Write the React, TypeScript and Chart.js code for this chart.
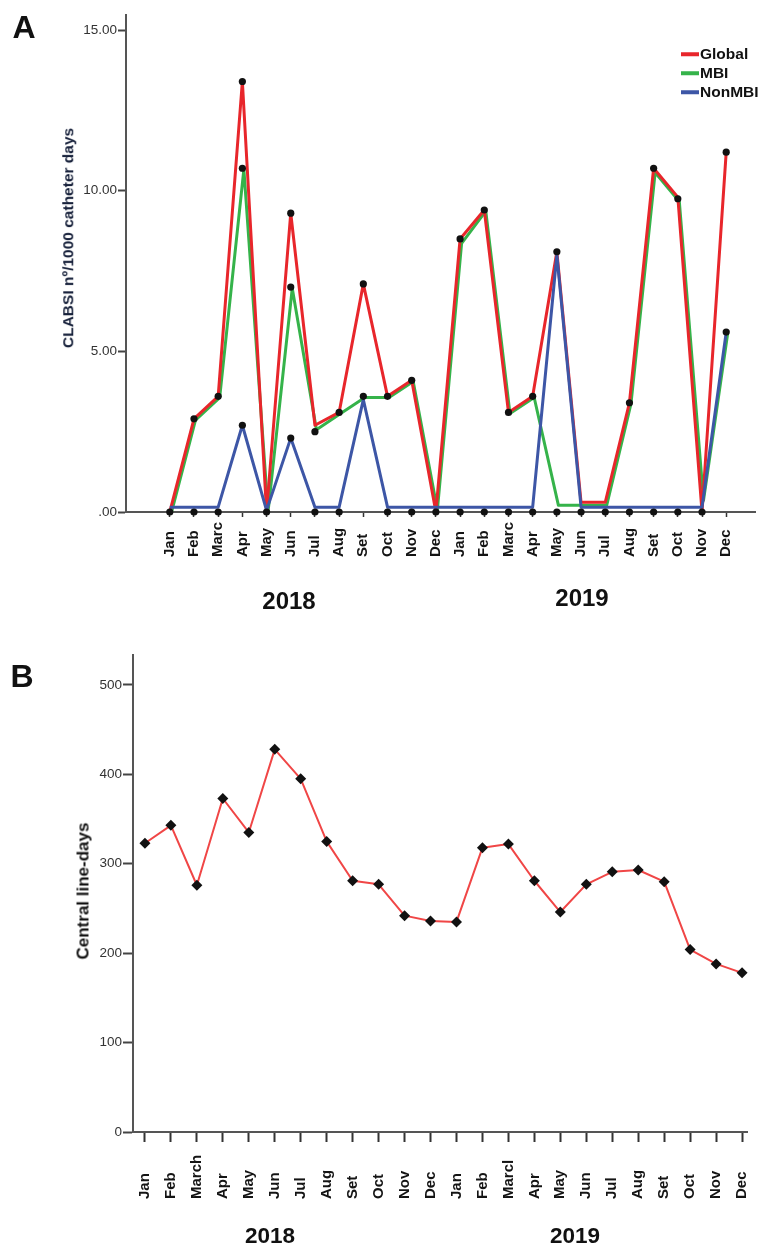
import React, { useEffect, useRef } from 'react';
import { Chart, registerables } from 'chart.js';

Chart.register(...registerables);

// ---------- Panel A data ----------
const monthsA = ['Jan', 'Feb', 'Marc', 'Apr', 'May', 'Jun', 'Jul', 'Aug', 'Set', 'Oct', 'Nov', 'Dec',
  'Jan', 'Feb', 'Marc', 'Apr', 'May', 'Jun', 'Jul', 'Aug', 'Set', 'Oct', 'Nov', 'Dec'];
const globalRate = [0, 2.9, 3.6, 13.4, 0, 9.3, 2.7, 3.1, 7.1, 3.6, 4.1, 0,
  8.5, 9.4, 3.1, 3.6, 8.1, 0.3, 0.3, 3.4, 10.7, 9.8, 0, 11.2];
const mbiRate = [0, 2.9, 3.6, 10.7, 0.05, 7.0, 2.6, 3.1, 3.6, 3.6, 4.1, 0.1,
  8.4, 9.4, 3.1, 3.6, 0.25, 0.25, 0.25, 3.4, 10.6, 9.7, 0.4, 5.6];
const nonMbiRate = [0.15, 0.15, 0.15, 2.7, 0.05, 2.3, 0.15, 0.15, 3.5, 0.15, 0.15, 0.15,
  0.15, 0.15, 0.15, 0.15, 8.0, 0.15, 0.15, 0.15, 0.15, 0.15, 0.15, 5.6];
// observed markers (black dots)
const globalDots = [null, 2.9, 3.6, 13.4, null, 9.3, 2.5, 3.1, 7.1, 3.6, 4.1, null,
  8.5, 9.4, 3.1, 3.6, 8.1, null, null, 3.4, 10.7, 9.75, null, 11.2];
const mbiDots = [null, null, null, 10.7, null, 7.0, null, null, 3.6, null, null, null,
  null, null, null, null, null, null, null, null, null, null, null, 5.6];
const nonMbiDots = [0, 0, 0, 2.7, 0, 2.3, 0, 0, null, 0, 0, 0,
  0, 0, 0, 0, 0, 0, 0, 0, 0, 0, 0, null];
const yTicksA = [0, 5, 10, 15];

// ---------- Panel B data ----------
const monthsB = ['Jan', 'Feb', 'March', 'Apr', 'May', 'Jun', 'Jul', 'Aug', 'Set', 'Oct', 'Nov', 'Dec',
  'Jan', 'Feb', 'Marcl', 'Apr', 'May', 'Jun', 'Jul', 'Aug', 'Set', 'Oct', 'Nov', 'Dec'];
const lineDays = [323, 343, 276, 373, 335, 428, 395, 325, 281, 277, 242, 236,
  235, 318, 322, 281, 246, 277, 291, 293, 280, 204, 188, 178];
const yTicksB = [0, 100, 200, 300, 400, 500];

const FONT = '"Liberation Sans", Arial, Helvetica, sans-serif';
const RED = '#e8262b';
const GREEN = '#35b34a';
const BLUE = '#3d56a6';

const toXY = (arr: (number | null)[]) =>
  arr.map((v, i) => (v === null ? null : { x: i, y: v })).filter(Boolean) as { x: number; y: number }[];

const verticalLabels = {
  id: 'verticalLabels',
  afterDraw(chart: any, _args: any, opts: any) {
    const xs = chart.scales.x;
    const ctx = chart.ctx;
    ctx.save();
    ctx.font = `bold ${opts.size}px ${FONT}`;
    ctx.fillStyle = '#141414';
    ctx.textAlign = 'left';
    ctx.textBaseline = 'middle';
    const y0 = chart.chartArea.bottom + opts.offset;
    (opts.labels as string[]).forEach((t, i) => {
      const px = xs.getPixelForValue(i);
      ctx.save();
      ctx.translate(px, y0);
      ctx.rotate(-Math.PI / 2);
      ctx.fillText(t, 0, 0);
      ctx.restore();
    });
    ctx.restore();
  },
};

const shiftDataset = {
  id: 'shiftDataset',
  beforeDatasetDraw(chart: any, args: any) {
    const ds = chart.data.datasets[args.index];
    if (ds.shift) {
      chart.ctx.save();
      chart.ctx.translate(ds.shift[0], ds.shift[1]);
    }
  },
  afterDatasetDraw(chart: any, args: any) {
    const ds = chart.data.datasets[args.index];
    if (ds.shift) chart.ctx.restore();
  },
};

function axisCommon() {
  return {
    border: { display: true, color: '#555', width: 2 },
  };
}

function ChartA() {
  const ref = useRef<HTMLCanvasElement>(null);
  useEffect(() => {
    const lineDs = (label: string, data: number[], color: string, order: number, shift?: number[]) => ({
      label,
      data: toXY(data),
      borderColor: color,
      backgroundColor: color,
      borderWidth: 3,
      borderJoinStyle: 'round',
      pointRadius: 0,
      tension: 0,
      order,
      shift,
      clip: false,
    });
    const dotDs = (data: (number | null)[]) => ({
      label: 'dots',
      data: toXY(data),
      showLine: false,
      pointRadius: 3.6,
      pointBackgroundColor: '#111',
      pointBorderColor: '#111',
      pointBorderWidth: 0,
      order: -1,
      clip: false,
    });
    const chart = new Chart(ref.current!, {
      type: 'line',
      data: {
        datasets: [
          lineDs('Global', globalRate, RED, 1),
          lineDs('MBI', mbiRate, GREEN, 2, [1.5, 1.2]),
          lineDs('NonMBI', nonMbiRate, BLUE, 0),
          dotDs(globalDots),
          dotDs(mbiDots),
          dotDs(nonMbiDots),
        ] as any,
      },
      options: {
        responsive: false,
        animation: false,
        layout: { padding: { top: 15, right: 1, left: 0, bottom: 0 } },
        plugins: {
          legend: { display: false },
          tooltip: { enabled: false },
          verticalLabels: { labels: monthsA, size: 15, offset: 45 },
        } as any,
        scales: {
          x: {
            type: 'linear',
            min: -1.81,
            max: 24.19,
            ...axisCommon(),
            grid: { drawOnChartArea: false, drawTicks: true, tickLength: 5, tickColor: '#333', tickWidth: 1.5 },
            ticks: { display: false },
            afterBuildTicks: (s: any) => { s.ticks = monthsA.map((_, i) => ({ value: i })); },
            afterFit: (s: any) => { s.height = 113; },
          },
          y: {
            type: 'linear',
            min: 0,
            max: 15.47,
            ...axisCommon(),
            grid: { drawOnChartArea: false, drawTicks: true, tickLength: 8, tickColor: '#444', tickWidth: 2 },
            ticks: {
              padding: 1,
              color: '#333',
              font: { family: FONT, size: 13.5 },
              callback: (v: any) => (v === 0 ? '.00' : Number(v).toFixed(2)),
            },
            afterBuildTicks: (s: any) => { s.ticks = yTicksA.map((v) => ({ value: v })); },
            afterFit: (s: any) => { s.width = 126; },
          },
        } as any,
      },
      plugins: [verticalLabels, shiftDataset],
    });
    return () => chart.destroy();
  }, []);
  return <canvas ref={ref} width={759} height={625} style={{ position: 'absolute', left: 0, top: 0, width: 759, height: 625 }} />;
}

function ChartB() {
  const ref = useRef<HTMLCanvasElement>(null);
  useEffect(() => {
    const chart = new Chart(ref.current!, {
      type: 'line',
      data: {
        datasets: [
          {
            label: 'Central line-days',
            data: toXY(lineDays),
            borderColor: '#f04646',
            borderWidth: 2,
            borderJoinStyle: 'round',
            tension: 0,
            pointStyle: 'rectRot',
            pointRadius: 5.5,
            pointBackgroundColor: '#111',
            pointBorderColor: '#111',
            pointBorderWidth: 0,
            clip: false,
          },
        ] as any,
      },
      options: {
        responsive: false,
        animation: false,
        layout: { padding: { top: 30, right: 12, left: 0, bottom: 0 } },
        plugins: {
          legend: { display: false },
          tooltip: { enabled: false },
          verticalLabels: { labels: monthsB, size: 15, offset: 67 },
        } as any,
        scales: {
          x: {
            type: 'linear',
            min: -0.46,
            max: 23.19,
            ...axisCommon(),
            grid: { drawOnChartArea: false, drawTicks: true, tickLength: 10, tickColor: '#333', tickWidth: 2 },
            ticks: { display: false },
            afterBuildTicks: (s: any) => { s.ticks = monthsB.map((_, i) => ({ value: i })); },
            afterFit: (s: any) => { s.height = 116; },
          },
          y: {
            type: 'linear',
            min: 0,
            max: 533.5,
            ...axisCommon(),
            grid: { drawOnChartArea: false, drawTicks: true, tickLength: 10, tickColor: '#444', tickWidth: 2 },
            ticks: {
              padding: 1,
              color: '#333',
              font: { family: FONT, size: 13.5 },
              callback: (v: any) => String(v),
            },
            afterBuildTicks: (s: any) => { s.ticks = yTicksB.map((v) => ({ value: v })); },
            afterFit: (s: any) => { s.width = 133; },
          },
        } as any,
      },
      plugins: [verticalLabels],
    });
    return () => chart.destroy();
  }, []);
  return <canvas ref={ref} width={759} height={623} style={{ position: 'absolute', left: 0, top: 625, width: 759, height: 623 }} />;
}

const centered = (left: number, top: number, size: number, extra: React.CSSProperties = {}): React.CSSProperties => ({
  position: 'absolute',
  left,
  top,
  transform: 'translate(-50%, -50%)',
  font: `bold ${size}px ${FONT}`,
  color: '#111',
  whiteSpace: 'nowrap',
  lineHeight: 1,
  ...extra,
});

const legendItems = [
  { label: 'Global', color: RED },
  { label: 'MBI', color: GREEN },
  { label: 'NonMBI', color: BLUE },
];

export default function App() {
  return (
    <div style={{ position: 'absolute', left: 0, top: 0, width: 759, height: 1248, background: '#fff', overflow: 'hidden' }}>
      <ChartA />
      <ChartB />
      {/* panel letters */}
      <div style={centered(24, 27, 32)}>A</div>
      <div style={centered(22, 676, 32)}>B</div>
      {/* axis titles */}
      <div style={centered(68, 238, 15.5, { transform: 'translate(-50%, -50%) rotate(-90deg)', color: '#16203a' })}>
        CLABSI nº/1000 catheter days
      </div>
      <div style={centered(83, 891, 17, { transform: 'translate(-50%, -50%) rotate(-90deg)' })}>
        Central line-days
      </div>
      {/* year labels */}
      <div style={centered(289, 601, 24)}>2018</div>
      <div style={centered(582, 598, 24)}>2019</div>
      <div style={centered(270, 1236, 22.5)}>2018</div>
      <div style={centered(575, 1236, 22.5)}>2019</div>
      {/* legend */}
      {legendItems.map((it, i) => (
        <div key={it.label} style={{ position: 'absolute', left: 681, top: 54 + i * 19, transform: 'translateY(-50%)', display: 'flex', alignItems: 'center', whiteSpace: 'nowrap' }}>
          <span style={{ display: 'inline-block', width: 18, height: 4, background: it.color }} />
          <span style={{ font: `bold 15.5px ${FONT}`, color: '#111', marginLeft: 1, lineHeight: 1 }}>{it.label}</span>
        </div>
      ))}
    </div>
  );
}
